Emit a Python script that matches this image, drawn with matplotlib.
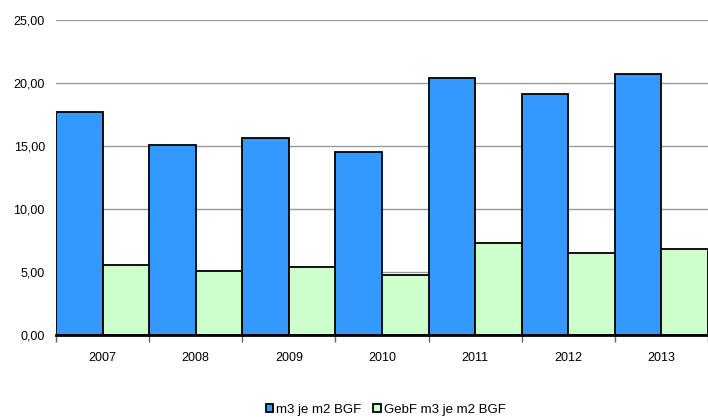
import numpy as np
import matplotlib
matplotlib.use("Agg")
import matplotlib.pyplot as plt
from matplotlib.ticker import FuncFormatter

plt.rcParams['font.family'] = ['Liberation Sans', 'DejaVu Sans']

years = ['2007', '2008', '2009', '2010', '2011', '2012', '2013']
m3_bgf = [17.7, 15.05, 15.6, 14.5, 20.4, 19.1, 20.7]
gebf_m3_bgf = [5.55, 5.05, 5.4, 4.75, 7.3, 6.5, 6.8]

fig = plt.figure(figsize=(7.08, 4.17), dpi=100)
ax = fig.add_axes([56/708, 82/417, 652/708, 315/417])

x = np.arange(len(years))
w = 0.5
ax.bar(x - w/2, m3_bgf, w, color='#3399ff', edgecolor='black', linewidth=1.3,
       label='m3 je m2 BGF', zorder=3)
ax.bar(x + w/2, gebf_m3_bgf, w, color='#ccffcc', edgecolor='black', linewidth=1.3,
       label='GebF m3 je m2 BGF', zorder=3)

ax.set_xlim(-0.5, len(years) - 0.5)
ax.set_ylim(0, 25)
ax.set_yticks(np.arange(0, 26, 5))
ax.yaxis.set_major_formatter(FuncFormatter(lambda v, p: f'{v:.2f}'.replace('.', ',')))
ax.grid(axis='y', color='#999999', linewidth=1, zorder=0)

ax.set_xticks(x)
ax.set_xticklabels(years)
ax.set_xticks(np.arange(-0.5, len(years), 1), minor=True)
ax.tick_params(axis='x', which='major', length=0, pad=12, labelsize=9)
ax.tick_params(axis='x', which='minor', length=5, width=1, color='#666666')
ax.tick_params(axis='y', length=0, pad=8, labelsize=9)

for s in ['top', 'right', 'left']:
    ax.spines[s].set_visible(False)
ax.spines['bottom'].set_linewidth(2)
ax.spines['bottom'].set_zorder(4)

fig.legend(loc='center', bbox_to_anchor=(0.545, 0.017), ncol=2, frameon=False,
           fontsize=9.5, handlelength=0.55, handleheight=0.55, handletextpad=0.25,
           columnspacing=0.9, borderpad=0)

fig.savefig('out.png', dpi=100)
